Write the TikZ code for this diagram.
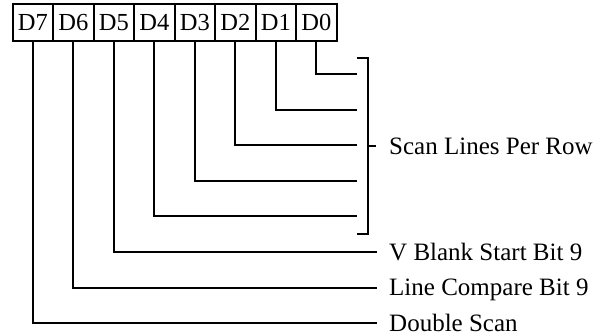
\documentclass[tikz,border=0pt]{standalone}
\usepackage{fontspec}
\setmainfont{Liberation Serif}
\begin{document}
\begin{tikzpicture}[x=1pt,y=-1pt,
  bitbox/.style={draw, line width=2pt, minimum width=40.5pt, minimum height=36.7pt, inner sep=0pt, font=\fontsize{24.5}{28}\selectfont},
  wire/.style={line width=2pt},
  lab/.style={anchor=base west, inner sep=0pt, font=\fontsize{25}{30}\selectfont}]
\useasboundingbox (0,0) rectangle (607,336);
% register boxes
\foreach \j in {0,...,7} {
  \node[bitbox] (b\j) at ({12.7+40.5*(7-\j)+20.25},22.35) {D\j};
}
% wire end points
\foreach \j in {0,...,4} {
  \coordinate (e\j) at (356.5,{74+35.6*\j});
}
\foreach \j in {5,6,7} {
  \coordinate (e\j) at (377,{74+35.6*\j});
}
% wires
\foreach \j in {0,...,7} {
  \draw[wire] (b\j.south) |- (e\j);
}
% bracket
\coordinate (bt) at (356.7,58.3);
\coordinate (btr) at (368,58.3);
\coordinate (bbr) at (368,234.3);
\coordinate (bb) at (356.7,234.3);
\coordinate (bm) at (368,146.2);
\coordinate (bmt) at (376,146.2);
\draw[wire] (bt) -- (btr) -- (bbr) -- (bb);
\draw[wire] (bm) -- (bmt);
% labels
\node[lab] (lscan) at (389,{146.2+8.3}) {Scan Lines Per Row};
\node[lab] (lvb) at (389,{74+35.6*5+8.3}) {V Blank Start Bit 9};
\node[lab] (llc) at (389,{74+35.6*6+8.3}) {Line Compare Bit 9};
\node[lab] (lds) at (389,{74+35.6*7+8.3}) {Double Scan};
\end{tikzpicture}
\end{document}
